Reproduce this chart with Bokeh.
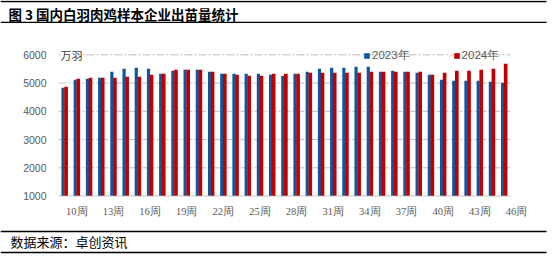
from bokeh.plotting import figure
from bokeh.layouts import column, row
from bokeh.models import ColumnDataSource, FixedTicker, Legend, LegendItem, Range1d
from bokeh.core.properties import value
from bokeh.transform import dodge
from bokeh.embed import file_html
from bokeh.resources import INLINE

title_text = "图 3 国内白羽肉鸡样本企业出苗量统计"
source_text = "数据来源：卓创资讯"
unit_text = "万羽"
series_names = ["2023年", "2024年"]
weeks = list(range(9, 46))
tick_weeks = list(range(10, 47, 3))
tick_labels = [f"{w}周" for w in tick_weeks]
y_ticks = [1000, 2000, 3000, 4000, 5000, 6000]

y2023 = [4835, 5118, 5153, 5188, 5400, 5506, 5541, 5506, 5329, 5435,
         5470, 5470, 5400, 5329, 5329, 5329, 5329, 5294, 5259, 5329,
         5400, 5506, 5541, 5541, 5576, 5576, 5400, 5435, 5400, 5365,
         5294, 5118, 5082, 5082, 5082, 5047, 5012]
y2024 = [4870, 5153, 5188, 5188, 5188, 5223, 5223, 5294, 5329, 5470,
         5470, 5470, 5400, 5329, 5294, 5259, 5259, 5329, 5329, 5329,
         5365, 5365, 5365, 5365, 5365, 5400, 5400, 5400, 5400, 5400,
         5294, 5365, 5435, 5435, 5470, 5506, 5682]

BLUE = "#0b58a0"
RED = "#c00000"
GRAY_TXT = "#595959"
CJK = "Noto Sans CJK SC"

W = 553

# ---------- header ----------
hdr = figure(width=W, height=23, x_range=Range1d(0, W), y_range=Range1d(23, 0),
             x_axis_type=None, y_axis_type=None, output_backend="svg",
             toolbar_location=None, min_border=0)
hdr.outline_line_color = None
hdr.grid.visible = False
hdr.segment(x0=[0, 0], x1=[546, 546], y0=[1, 22], y1=[1, 22], line_color="black", line_width=1.5)
hdr.text(x=[8], y=[13], text=[title_text], text_baseline="middle", text_align="left",
         text_font=value(CJK), text_font_style="bold", text_font_size="13.5px", text_color="black")

# ---------- chart ----------
src = ColumnDataSource(dict(week=weeks, y2023=y2023, y2024=y2024))
x0 = weeks[0] - 0.5
x1 = weeks[-1] + 0.5

p = figure(width=W, height=205, x_range=Range1d(x0, tick_weeks[-1] + 0.5),
           y_range=Range1d(985, 6400), output_backend="svg", toolbar_location=None,
           min_border_left=58, min_border_right=31, min_border_top=20, min_border_bottom=32)
p.outline_line_color = None
p.xgrid.grid_line_color = None
p.ygrid.grid_line_color = None

gy = y_ticks[1:]
for g in gy:
    p.line(x=[x0, x1], y=[g, g], line_color="#bdbdbd", line_width=1, line_dash="8 2 2 2")

r1 = p.vbar(x=dodge("week", -0.13), top="y2023", bottom=y_ticks[0], width=0.26,
            source=src, fill_color=BLUE, line_color=None)
r2 = p.vbar(x=dodge("week", 0.12), top="y2024", bottom=y_ticks[0], width=0.30,
            source=src, fill_color=RED, line_color=None)

# category axis line
p.line(x=[x0, x1], y=[y_ticks[0], y_ticks[0]], line_color="#a6a6a6", line_width=1)

p.yaxis.ticker = FixedTicker(ticks=y_ticks)
p.yaxis.axis_line_color = None
p.yaxis.major_tick_line_color = None
p.yaxis.minor_tick_line_color = None
p.yaxis.major_label_standoff = 6
p.yaxis.major_label_text_font = "Liberation Sans"
p.yaxis.major_label_text_font_size = "10.5px"
p.yaxis.major_label_text_color = GRAY_TXT

p.xaxis.ticker = FixedTicker(ticks=tick_weeks)
p.xaxis.major_label_overrides = {w: l for w, l in zip(tick_weeks, tick_labels)}
p.xaxis.axis_line_color = None
p.xaxis.major_tick_line_color = None
p.xaxis.minor_tick_line_color = None
p.xaxis.major_label_standoff = 3
p.xaxis.major_label_text_font = "Liberation Serif"
p.xaxis.major_label_text_font_size = "10.5px"
p.xaxis.major_label_text_color = GRAY_TXT

p.text(x=[x0], y=[y_ticks[-1]], text=[unit_text], x_offset=2, text_baseline="middle",
       text_align="left", text_font=value(CJK), text_font_size="11px", text_color="#404040",
       background_fill_color="white")

legend = Legend(items=[LegendItem(label=series_names[0], renderers=[r1]),
                       LegendItem(label=series_names[1], renderers=[r2])],
                orientation="horizontal", location=(305, 133), padding=0, margin=0,
                spacing=43, glyph_width=7, glyph_height=7, label_standoff=2,
                label_height=12, label_width=10,
                border_line_color=None, background_fill_alpha=0,
                label_text_font="Liberation Sans", label_text_font_size="11.5px",
                label_text_color=GRAY_TXT)
p.add_layout(legend)

# ---------- footer ----------
ftr = figure(width=W, height=29, x_range=Range1d(0, W), y_range=Range1d(29, 0),
             x_axis_type=None, y_axis_type=None, output_backend="svg",
             toolbar_location=None, min_border=0)
ftr.outline_line_color = None
ftr.grid.visible = False
ftr.segment(x0=[0, 0], x1=[546, 546], y0=[3, 24], y1=[3, 24], line_color="black", line_width=1.5)
ftr.text(x=[10], y=[13], text=[source_text], text_baseline="middle", text_align="left",
         text_font=value(CJK), text_font_size="13px", text_color="black")

layout = column(row(hdr), row(p), row(ftr), spacing=0)
open("out.html", "w").write(file_html(layout, INLINE))
